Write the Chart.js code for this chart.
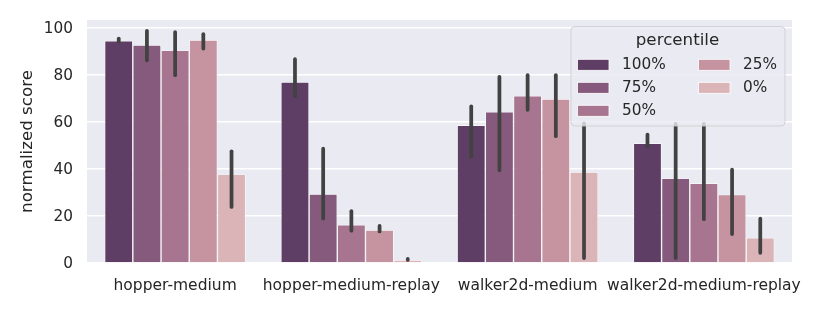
<!DOCTYPE html>
<html><head><meta charset="utf-8">
<script src="https://cdn.jsdelivr.net/npm/chart.js@4"></script>
<style>html,body{margin:0;padding:0;background:#fff}#wrap{width:830px;height:312px}</style>
</head><body><div id="wrap"><canvas id="c" width="830" height="312"></canvas></div>
<script>
const categories = ['hopper-medium', 'hopper-medium-replay', 'walker2d-medium', 'walker2d-medium-replay'];
const percentiles = ['100%', '75%', '50%', '25%', '0%'];
const yTicks = [0, 20, 40, 60, 80, 100];

// bar heights (mean normalized score)
const p100 = [94.3, 76.8, 58.4, 50.8];
const p75  = [92.5, 29.3, 64.1, 35.9];
const p50  = [90.2, 16.2, 70.9, 33.8];
const p25  = [94.6, 14.0, 69.6, 29.0];
const p0   = [37.6,  1.3, 38.6, 10.7];

// error bar lower / upper ends
const p100Lo = [94.0, 70.8, 45.2, 49.5];
const p100Hi = [95.2, 86.5, 66.5, 54.5];
const p75Lo  = [86.0, 18.9, 39.3,  2.1];
const p75Hi  = [98.5, 48.5, 79.0, 59.0];
const p50Lo  = [79.7, 13.7, 65.0, 18.6];
const p50Hi  = [98.0, 22.0, 79.7, 59.0];
const p25Lo  = [91.0, 13.4, 53.8, 12.3];
const p25Hi  = [97.1, 15.7, 79.7, 39.6];
const p0Lo   = [23.8,  1.3,  2.1,  4.3];
const p0Hi   = [47.4,  1.7, 59.2, 18.8];

const values = [p100, p75, p50, p25, p0];
const errLo = [p100Lo, p75Lo, p50Lo, p25Lo, p0Lo];
const errHi = [p100Hi, p75Hi, p50Hi, p25Hi, p0Hi];
const colors = ['#5e3e64', '#865a7c', '#a7758f', '#c594a0', '#dbb4b7'];

const FONT = "'DejaVu Sans', sans-serif";
const TXT = '#262626';

const bgPlugin = {
  id: 'bg',
  beforeDraw(chart) {
    const {ctx, chartArea: a} = chart;
    ctx.save();
    ctx.fillStyle = '#eaeaf2';
    ctx.fillRect(a.left, a.top, a.right - a.left, a.bottom - a.top);
    ctx.restore();
  }
};

const errPlugin = {
  id: 'errbars',
  afterDatasetsDraw(chart) {
    const {ctx} = chart;
    const y = chart.scales.y;
    ctx.save();
    ctx.strokeStyle = '#424242';
    ctx.lineWidth = 3.75;
    ctx.lineCap = 'round';
    chart.data.datasets.forEach((ds, di) => {
      const meta = chart.getDatasetMeta(di);
      meta.data.forEach((bar, i) => {
        ctx.beginPath();
        ctx.moveTo(bar.x, y.getPixelForValue(errLo[di][i]));
        ctx.lineTo(bar.x, y.getPixelForValue(errHi[di][i]));
        ctx.stroke();
      });
    });
    ctx.restore();
  }
};

function roundRect(ctx, x, y, w, h, r) {
  ctx.beginPath();
  ctx.moveTo(x + r, y);
  ctx.lineTo(x + w - r, y);
  ctx.arcTo(x + w, y, x + w, y + r, r);
  ctx.lineTo(x + w, y + h - r);
  ctx.arcTo(x + w, y + h, x + w - r, y + h, r);
  ctx.lineTo(x + r, y + h);
  ctx.arcTo(x, y + h, x, y + h - r, r);
  ctx.lineTo(x, y + r);
  ctx.arcTo(x, y, x + r, y, r);
  ctx.closePath();
}

const legendPlugin = {
  id: 'customLegend',
  afterDraw(chart) {
    const {ctx} = chart;
    const bx = 571, by = 26.5, bw = 214, bh = 99.5;
    ctx.save();
    roundRect(ctx, bx, by, bw, bh, 4);
    ctx.fillStyle = 'rgba(234,234,242,0.8)';
    ctx.fill();
    ctx.strokeStyle = 'rgba(204,204,204,0.8)';
    ctx.lineWidth = 1;
    ctx.stroke();
    ctx.fillStyle = TXT;
    ctx.textBaseline = 'middle';
    ctx.textAlign = 'center';
    ctx.font = `16.7px ${FONT}`;
    ctx.fillText('percentile', 677.5, 41);
    ctx.font = `15.3px ${FONT}`;
    ctx.textAlign = 'left';
    const rows = [64.8, 87.8, 110.8];
    const cols = [{px: 577.5, tx: 622}, {px: 698.5, tx: 743}];
    percentiles.forEach((p, i) => {
      const col = i < 3 ? 0 : 1;
      const row = i < 3 ? i : i - 3;
      const cy = rows[row];
      ctx.fillStyle = colors[i];
      ctx.fillRect(cols[col].px, cy - 5.5, 31.5, 11);
      ctx.strokeStyle = '#ffffff';
      ctx.lineWidth = 0.8;
      ctx.strokeRect(cols[col].px, cy - 5.5, 31.5, 11);
      ctx.fillStyle = TXT;
      ctx.fillText(p, cols[col].tx, cy + 0.5);
    });
    ctx.restore();
  }
};

function noPad(s) {
  s.paddingTop = 0; s.paddingBottom = 0; s.paddingLeft = 0; s.paddingRight = 0;
}

new Chart(document.getElementById('c'), {
  type: 'bar',
  data: {
    labels: categories,
    datasets: percentiles.map((p, i) => ({
      label: p,
      data: values[i],
      backgroundColor: colors[i],
      borderColor: '#ffffff',
      borderWidth: 0.7,
      categoryPercentage: 0.8,
      barPercentage: 1.0
    }))
  },
  options: {
    responsive: false,
    animation: false,
    devicePixelRatio: 1,
    layout: {padding: {left: 0, right: 38, top: 20, bottom: 0}},
    plugins: {legend: {display: false}, tooltip: {enabled: false}},
    scales: {
      x: {
        grid: {display: false, drawTicks: false},
        border: {display: false},
        ticks: {font: {family: FONT, size: 15.5}, color: TXT, padding: 14, maxRotation: 0, autoSkip: false},
        afterFit(s) { s.height = 49; noPad(s); }
      },
      y: {
        min: 0,
        max: 103.1,
        grid: {color: '#ffffff', lineWidth: 1.4, drawTicks: false},
        border: {display: false},
        afterBuildTicks(s) { s.ticks = yTicks.map(v => ({value: v})); },
        ticks: {font: {family: FONT, size: 15.3}, color: TXT, padding: 14, labelOffset: 1.5},
        title: {display: true, text: 'normalized score', color: TXT, font: {family: FONT, size: 16.7}, padding: {top: 18, bottom: 0}},
        afterFit(s) { s.width = 87; noPad(s); }
      }
    }
  },
  plugins: [bgPlugin, errPlugin, legendPlugin]
});
</script>
</body></html>
